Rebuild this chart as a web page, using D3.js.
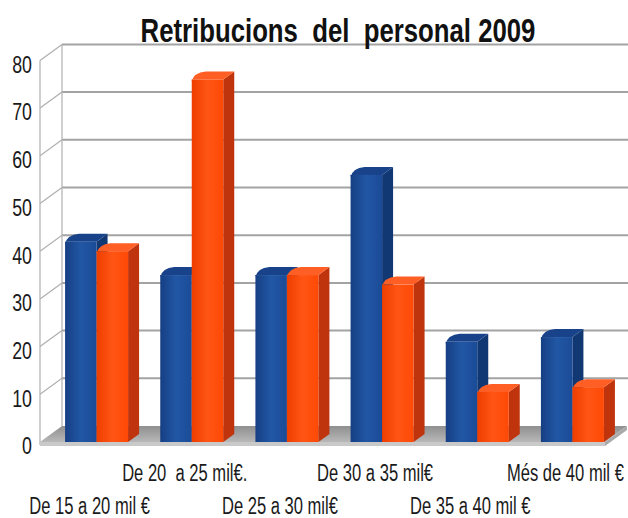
<!DOCTYPE html>
<html>
<head>
<meta charset="utf-8">
<script src="https://cdn.jsdelivr.net/npm/d3@7/dist/d3.min.js"></script>
<style>
    html, body { margin: 0; padding: 0; background: #fff; }
    text { white-space: pre; }
</style>
</head>
<body>
<div id="container"></div>
<script>
// data
const categories = ['De 15 a 20 mil €', 'De 20  a 25 mil€.', 'De 25 a 30 mil€',
    'De 30 a 35 mil€', 'De 35 a 40 mil €', 'Més de 40 mil €'];
const seriesNames = ['blue', 'orange'];
const blueValues = [42, 35, 35, 56, 21, 22];
const orangeValues = [40, 76, 35, 33, 10.5, 11.5];
const yTicks = [0, 10, 20, 30, 40, 50, 60, 70, 80];
const titleText = 'Retribucions  del  personal 2009';

const W = 628;
const H = 518;
const FONT = '"Liberation Sans Narrow", "Arial Narrow", "Liberation Sans", Arial, sans-serif';

// depth offsets (front plane -> back wall, bar front -> bar back)
const wallDepth = {dx: 22, dy: -16};
const barDepth = {dx: 11, dy: -8};

const colors = {
    blue: {front: ['#163f83', '#2157a5', '#1b4b97'], side: '#123873', top: '#18438a'},
    orange: {front: ['#ee3e00', '#ff5514', '#ff4906'], side: '#bf340c', top: '#ff5f24'}
};

// no narrow font installed: squeeze the glyphs instead
function condense(sel, f) {
    sel.each(function () {
        const len = this.getComputedTextLength();
        d3.select(this)
            .attr('textLength', len * f)
            .attr('lengthAdjust', 'spacingAndGlyphs');
    });
}

const svg = d3.select('#container')
    .append('svg')
    .attr('width', W)
    .attr('height', H);

const defs = svg.append('defs');
seriesNames.forEach(name => {
    const grad = defs.append('linearGradient')
        .attr('id', 'grad-' + name)
        .attr('x1', 0).attr('x2', 1).attr('y1', 0).attr('y2', 0);
    colors[name].front.forEach((c, i) => {
        grad.append('stop')
            .attr('offset', (i / 2 * 100) + '%')
            .attr('stop-color', c);
    });
});
const floorGrad = defs.append('linearGradient')
    .attr('id', 'grad-floor')
    .attr('x1', 0).attr('x2', 0).attr('y1', 0).attr('y2', 1);
floorGrad.append('stop').attr('offset', '0%').attr('stop-color', '#8f8f8f');
floorGrad.append('stop').attr('offset', '100%').attr('stop-color', '#b8b8b8');

// scales
const yScale = d3.scaleLinear()
    .domain([0, 80])
    .range([442, 442 - 80 * 4.77]);
const xScale = d3.scaleBand()
    .domain(categories)
    .range([49, 620])
    .paddingInner(0.338)
    .paddingOuter(0.169);
const sScale = d3.scaleBand()
    .domain(seriesNames)
    .range([0, xScale.bandwidth()]);

const frontX = 40;
const backX = frontX + wallDepth.dx;

// back wall grid
svg.append('g')
    .selectAll('line')
    .data(yTicks.filter(d => d > 0))
    .join('line')
    .attr('x1', backX)
    .attr('x2', W)
    .attr('y1', d => yScale(d) + wallDepth.dy)
    .attr('y2', d => yScale(d) + wallDepth.dy)
    .attr('stroke', '#a3a3a3')
    .attr('stroke-width', 2);

// left wall
const side = svg.append('g')
    .attr('stroke', '#b0b0b0')
    .attr('stroke-width', 1.2)
    .attr('fill', 'none');
side.append('line')
    .attr('x1', frontX).attr('x2', frontX)
    .attr('y1', yScale(80)).attr('y2', yScale(0) + 3);
side.append('line')
    .attr('x1', backX).attr('x2', backX)
    .attr('y1', yScale(80) + wallDepth.dy).attr('y2', yScale(0) + wallDepth.dy);
side.selectAll('.diag')
    .data(yTicks.filter(d => d > 0))
    .join('line')
    .attr('class', 'diag')
    .attr('x1', frontX)
    .attr('x2', backX)
    .attr('y1', d => yScale(d))
    .attr('y2', d => yScale(d) + wallDepth.dy);

// floor
const y0 = yScale(0);
const floorRight = 605;
svg.append('path')
    .attr('d', `M${frontX},${y0} L${floorRight},${y0} L${floorRight + wallDepth.dx},${y0 + wallDepth.dy}
        L${backX},${y0 + wallDepth.dy} Z`)
    .attr('fill', 'url(#grad-floor)');
svg.append('path')
    .attr('d', `M${frontX},${y0} L${floorRight},${y0} L${floorRight},${y0 + 4}
        L${frontX},${y0 + 4} Z`)
    .attr('fill', '#c9c9c9');
svg.append('path')
    .attr('d', `M${floorRight},${y0} L${floorRight + wallDepth.dx},${y0 + wallDepth.dy}
        L${floorRight + wallDepth.dx},${y0 + wallDepth.dy + 4} L${floorRight},${y0 + 4} Z`)
    .attr('fill', '#a9a9a9');

// bars
const rows = [];
categories.forEach((c, i) => {
    rows.push({cat: c, name: 'blue', value: blueValues[i]});
    rows.push({cat: c, name: 'orange', value: orangeValues[i]});
});

const bar = svg.append('g')
    .selectAll('.bar')
    .data(rows)
    .join('g')
    .attr('class', 'bar');

bar.each(function (d) {
    const g = d3.select(this);
    const x = xScale(d.cat) + sScale(d.name);
    const w = sScale.bandwidth();
    const yt = yScale(d.value);
    const dx = barDepth.dx;
    const dy = barDepth.dy;
    // side
    g.append('path')
        .attr('d', `M${x + w},${yt} L${x + w + dx},${yt + dy} L${x + w + dx},${y0 + dy} L${x + w},${y0} Z`)
        .attr('fill', colors[d.name].side);
    // top
    g.append('path')
        .attr('d', `M${x},${yt} L${x + w},${yt} L${x + w + dx},${yt + dy} L${x + dx + 3},${yt + dy}
            Q${x + 2},${yt + dy + 1} ${x},${yt + 2} Z`)
        .attr('fill', colors[d.name].top);
    // front
    g.append('rect')
        .attr('x', x)
        .attr('y', yt)
        .attr('width', w)
        .attr('height', y0 - yt)
        .attr('fill', `url(#grad-${d.name})`);
});

// y labels
svg.append('g')
    .selectAll('text')
    .data(yTicks)
    .join('text')
    .attr('x', 32)
    .attr('y', d => yScale(d) + 6)
    .attr('text-anchor', 'end')
    .attr('dominant-baseline', 'middle')
    .attr('font-family', FONT)
    .attr('font-size', 24)
    .attr('fill', '#1a1a1a')
    .text(d => d)
    .call(condense, 0.74);

// x labels, staggered in two rows
svg.append('g')
    .selectAll('text')
    .data(categories)
    .join('text')
    .attr('x', d => xScale(d) + xScale.bandwidth() / 2 - 7)
    .attr('y', (d, i) => i % 2 ? 481 : 514)
    .attr('text-anchor', 'middle')
    .attr('font-family', FONT)
    .attr('font-size', 23)
    .attr('fill', '#1a1a1a')
    .text(d => d)
    .call(condense, 0.72);

// title
svg.append('text')
    .attr('x', 338)
    .attr('y', 42)
    .attr('text-anchor', 'middle')
    .attr('font-family', FONT)
    .attr('font-weight', 'bold')
    .attr('font-size', 33)
    .attr('fill', '#111')
    .text(titleText)
    .call(condense, 0.78);
</script>
</body>
</html>
